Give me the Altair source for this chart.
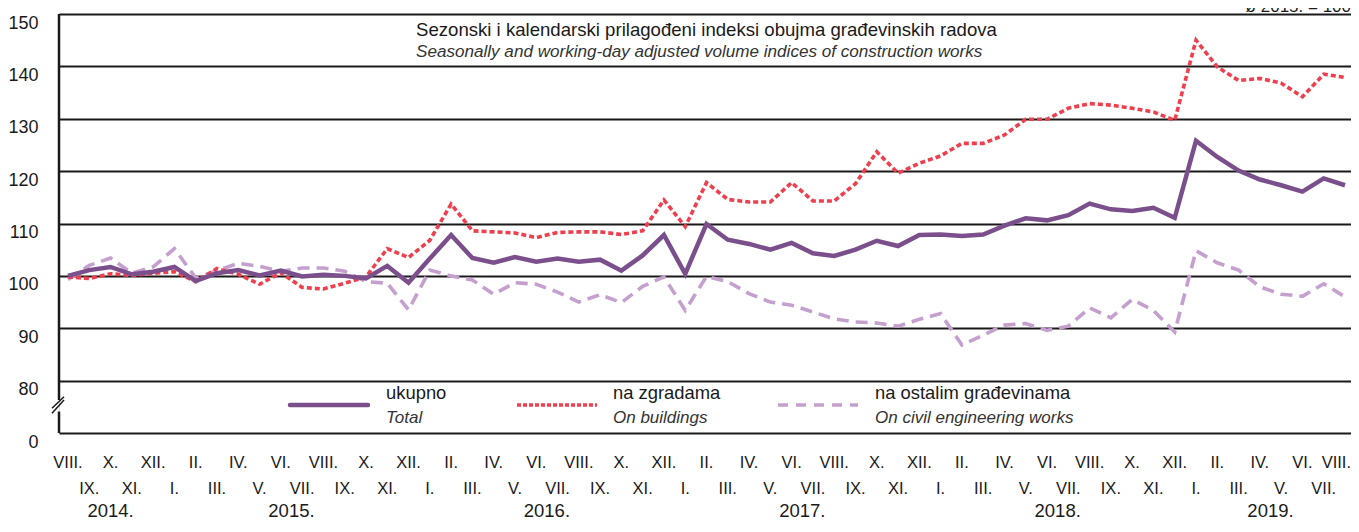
import altair as alt
import pandas as pd

# ---------------- data ----------------
roman = ["I.", "II.", "III.", "IV.", "V.", "VI.", "VII.", "VIII.", "IX.", "X.", "XI.", "XII."]
start_month = 8   # VIII. 2014
start_year = 2014
n_months = 61
month_labels = [roman[(start_month - 1 + i) % 12] for i in range(n_months)]
month_years = [start_year + (start_month - 1 + i) // 12 for i in range(n_months)]
year_labels = ["2014.", "2015.", "2016.", "2017.", "2018.", "2019."]

total = [100.0, 101.1, 101.7, 100.3, 100.8, 101.7, 99.0, 100.5, 101.1, 100.1,
         101.0, 99.9, 100.2, 100.0, 99.5, 101.9, 98.7, 103.3, 107.8, 103.4,
         102.5, 103.6, 102.7, 103.3, 102.7, 103.1, 101.0, 103.9, 107.8, 100.4,
         109.9, 106.9, 106.1, 105.0, 106.3, 104.3, 103.8, 105.0, 106.7, 105.7,
         107.8, 107.9, 107.6, 107.9, 109.6, 111.0, 110.6, 111.6, 113.8, 112.7,
         112.4, 113.0, 111.1, 125.8, 122.7, 120.1, 118.4, 117.3, 116.1, 118.6, 117.3]

buildings = [99.8, 99.5, 100.4, 100.1, 100.5, 100.8, 98.9, 101.4, 100.3, 98.4,
             100.6, 97.8, 97.5, 98.6, 99.8, 105.2, 103.5, 106.8, 113.7, 108.6,
             108.4, 108.2, 107.3, 108.3, 108.4, 108.4, 107.9, 108.6, 114.5, 109.4,
             117.8, 114.6, 114.1, 114.1, 117.8, 114.3, 114.3, 117.6, 123.7, 119.6,
             121.5, 122.9, 125.3, 125.3, 126.9, 129.9, 129.9, 132.0, 132.9, 132.6,
             132.0, 131.3, 129.7, 145.0, 139.9, 137.3, 137.7, 136.8, 134.2, 138.5, 137.9]

civil = [99.3, 102.0, 103.4, 100.5, 101.7, 105.2, 99.6, 101.0, 102.4, 101.8,
         100.9, 101.5, 101.5, 100.9, 98.9, 98.6, 93.5, 101.1, 100.0, 99.2,
         96.5, 98.7, 98.4, 96.9, 95.0, 96.4, 94.9, 98.0, 99.8, 93.4,
         99.9, 98.9, 96.6, 95.0, 94.4, 93.1, 91.8, 91.2, 91.0, 90.4,
         91.7, 92.8, 86.8, 88.7, 90.6, 90.9, 89.6, 90.4, 93.9, 92.0,
         95.5, 93.4, 89.3, 104.8, 102.5, 101.1, 97.9, 96.5, 96.1, 98.5, 96.0]

series_hr = ["ukupno", "na zgradama", "na ostalim građevinama"]
series_en = ["Total", "On buildings", "On civil engineering works"]

title_hr = "Sezonski i kalendarski prilagođeni indeksi obujma građevinskih radova"
title_en = "Seasonally and working-day adjusted volume indices of construction works"
base_note = "ø 2015. = 100"

y_ticks = [70, 80, 90, 100, 110, 120, 130, 140, 150]   # 70 stands for the broken "0"

# ---------------- styling ----------------
FONT = "Liberation Sans"
INK = "#1a1a1a"
C_TOTAL = "#7b4f8b"
C_BUILD = "#ee3f4e"
C_CIVIL = "#c59fce"
W, H = 1292, 419

idx = list(range(n_months))
df = pd.DataFrame({"idx": idx, "total": total, "buildings": buildings, "civil": civil,
                   "month": month_labels, "year": month_years})
df["row"] = [i % 2 for i in idx]

xscale = alt.Scale(domain=[-0.4229, 60.282], nice=False, zero=False)
yscale = alt.Scale(domain=[70, 150], nice=False, zero=False)
yaxis = alt.Axis(values=y_ticks, labelExpr="datum.value == 70 ? '0' : datum.label",
                 grid=True, gridColor=INK, gridWidth=2, domain=False, ticks=False,
                 labelFont=FONT, labelFontSize=18, labelColor=INK, labelPadding=21,
                 labelBaseline="middle", labelOffset=9, title=None)

def yenc(field):
    return alt.Y(f"{field}:Q", scale=yscale, axis=yaxis)

X = alt.X("idx:Q", scale=xscale, axis=None)

base = alt.Chart(df)
l_civil = base.mark_line(color=C_CIVIL, strokeWidth=3.6, strokeDash=[12, 7]).encode(x=X, y=yenc("civil"))
l_build = base.mark_line(color=C_BUILD, strokeWidth=3.6, strokeDash=[5, 3]).encode(x=X, y=yenc("buildings"))
l_total = base.mark_line(color=C_TOTAL, strokeWidth=4.5).encode(x=X, y=yenc("total"))

# axis line with break
seg = pd.DataFrame({"a": [150, 74.1], "b": [76.3, 70]})
axis_line = alt.Chart(seg).mark_rule(color=INK, strokeWidth=2.5).encode(
    x=alt.value(0), y=alt.Y("a:Q", scale=yscale, axis=yaxis), y2="b:Q")
slash = pd.DataFrame({"a": [73.76, 74.72], "b": [76.3, 76.93]})
slashes = alt.Chart(slash).mark_rule(color=INK, strokeWidth=1.5).encode(
    x=alt.value(-7), x2=alt.value(5), y=alt.Y("a:Q", scale=yscale, axis=yaxis), y2="b:Q")

# x tick labels
last = n_months - 1
tick_style = dict(font=FONT, fontSize=16.5, color=INK, align="center", baseline="middle")
row1 = base.transform_filter(f"datum.row == 0 && datum.idx < {last}").mark_text(**tick_style).encode(
    x=X, y=alt.value(449), text="month:N")
row1_last = base.transform_filter(f"datum.idx == {last}").mark_text(
    **dict(tick_style, align="right", dx=6)).encode(x=X, y=alt.value(449), text="month:N")
row2 = base.transform_filter("datum.row == 1").mark_text(**tick_style).encode(
    x=X, y=alt.value(475), text="month:N")
ydf = df.groupby("year", as_index=False)["idx"].mean()
ydf["label"] = year_labels
year_style = dict(tick_style, fontSize=18.5, baseline="alphabetic")
years_t = alt.Chart(ydf).mark_text(**year_style).encode(x=X, y=alt.value(503), text="label:N")

# title
one = pd.DataFrame({"k": [0]})
t1 = alt.Chart(one).mark_text(font=FONT, fontSize=18.6, color=INK, align="left", baseline="alphabetic").encode(
    x=alt.value(357), y=alt.value(22), text=alt.value(title_hr))
t2 = alt.Chart(one).mark_text(font=FONT, fontSize=17.1, fontStyle="italic", color="#333333",
                              align="left", baseline="alphabetic").encode(
    x=alt.value(357), y=alt.value(43), text=alt.value(title_en))
note = alt.Chart(one).mark_text(font=FONT, fontSize=17, color=INK, align="right", baseline="alphabetic").encode(
    x=alt.value(1292), y=alt.value(-2), text=alt.value(base_note))

# legend
leg = pd.DataFrame({"hr": series_hr, "en": series_en, "k": [0, 1, 2]})
styles = [dict(color=C_TOTAL, strokeWidth=4.5, strokeCap="round"),
          dict(color=C_BUILD, strokeWidth=3.6, strokeDash=[4, 2]),
          dict(color=C_CIVIL, strokeWidth=3.6, strokeDash=[10, 8])]
sx = [(231, 309), (458, 538), (719, 799)]
tx = [327, 554, 816]
leg_layers = []
for k in range(3):
    d = alt.Chart(leg).transform_filter(f"datum.k == {k}")
    leg_layers.append(d.mark_rule(**styles[k]).encode(
        x=alt.value(sx[k][0]), x2=alt.value(sx[k][1]), y=alt.value(391)))
    leg_layers.append(d.mark_text(font=FONT, fontSize=18.4, color=INK, align="left", baseline="alphabetic").encode(
        x=alt.value(tx[k]), y=alt.value(385), text="hr:N"))
    leg_layers.append(d.mark_text(font=FONT, fontSize=17, fontStyle="italic", color="#333333",
                                  align="left", baseline="alphabetic").encode(
        x=alt.value(tx[k]), y=alt.value(409), text="en:N"))

chart = alt.layer(l_civil, l_build, l_total, axis_line, slashes, row1, row1_last, row2, years_t,
                  t1, t2, note, *leg_layers).properties(
    width=W, height=H,
    autosize=alt.AutoSizeParams(type="none"),
    padding={"left": 51, "top": 6, "right": 0, "bottom": 91},
).configure_view(stroke=None).configure(background="white")

chart.save("out.html", embed_options={"renderer": "svg", "actions": False})
